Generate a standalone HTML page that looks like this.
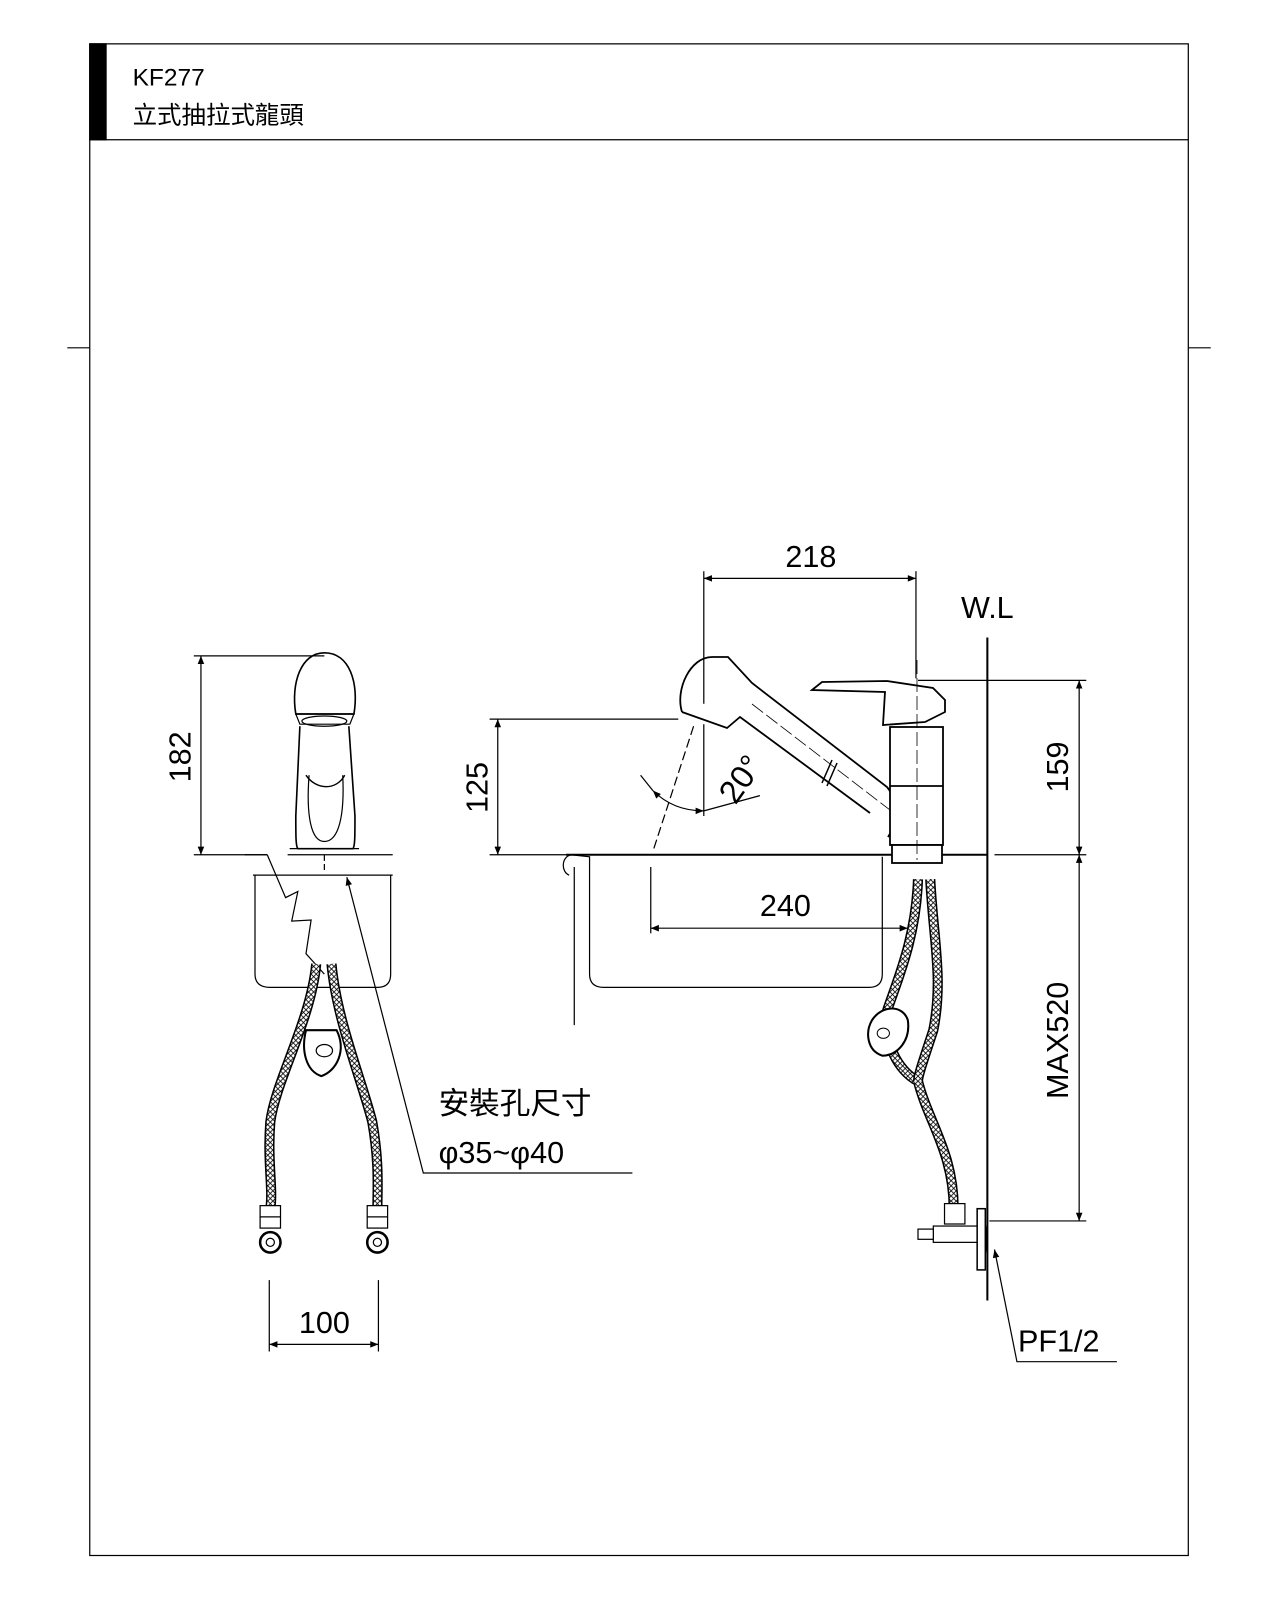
<!DOCTYPE html>
<html><head><meta charset="utf-8"><style>
html,body{margin:0;padding:0;background:#fff;}
svg{display:block}
text{font-family:"Liberation Sans","Noto Sans CJK TC",sans-serif;fill:#000}
</style></head><body>
<svg width="1280" height="1600" viewBox="0 0 1280 1600" xmlns="http://www.w3.org/2000/svg">
<defs>
<marker id="a" viewBox="0 0 10 10" refX="10" refY="5" markerWidth="12" markerHeight="8" orient="auto-start-reverse" markerUnits="userSpaceOnUse"><path d="M0,1 L10,5 L0,9 z" fill="#000"/></marker>
<pattern id="br" width="5" height="5" patternUnits="userSpaceOnUse"><rect width="5" height="5" fill="#fff"/><path d="M0,5 L5,0 M0,0 L5,5" stroke="#000" stroke-width="0.8"/></pattern>
</defs>
<g transform="scale(1.02)" fill="none" stroke="#000" stroke-width="1.2">
<rect x="88" y="43" width="1077" height="1482" stroke-width="1.2"/>
<line x1="88" y1="137" x2="1165" y2="137"/>
<rect x="88" y="43" width="16" height="94" fill="#000"/>
<line x1="66" y1="341" x2="88" y2="341"/><line x1="1165" y1="341" x2="1187" y2="341"/>
<text x="130" y="84" font-size="24" stroke="none">KF277</text>
<text x="130" y="121" font-size="24" stroke="none">立式抽拉式龍頭</text>

<line x1="190" y1="643" x2="318" y2="643"/>
<line x1="190" y1="838" x2="262" y2="838"/>
<line x1="197" y1="643" x2="197" y2="838" marker-start="url(#a)" marker-end="url(#a)"/>
<text transform="translate(187,742) rotate(-90)" font-size="30" stroke="none" text-anchor="middle">182</text>
<path d="M290,700 C285,670 295,640 318,640 C343,640 352,670 347,700 Z" stroke-width="1.6"/>
<path d="M290,700 L347,700 L343,710 L294,710 Z"/>
<ellipse cx="318" cy="707" rx="22" ry="5"/>
<path d="M294,712 L290,800 C290,820 290,830 292,832 L346,832 C348,830 348,820 348,800 L342,712" stroke-width="1.6"/>
<path d="M300,760 C310,775 330,775 338,760" stroke-width="1.4"/>
<path d="M303,760 C300,800 305,825 318,825 C332,825 338,800 336,760"/>
<line x1="284" y1="832" x2="352" y2="832"/>
<line x1="282" y1="838" x2="385" y2="838"/>
<line x1="240" y1="838" x2="262" y2="838"/>
<path d="M248,858 L385,858 M250,858 L250,955 Q250,968 265,968 L370,968 Q383,968 383,955 L383,858"/>
<path d="M262,838 L280,880 L292,874 L286,903 L305,902 L300,935 L318,955"/>
<line x1="318" y1="838" x2="318" y2="855" stroke-dasharray="6,3"/>
<path d="M340,860 L415,1150 L620,1150" marker-start="url(#a)"/>
<text x="430" y="1092" font-size="30" stroke="none">安裝孔尺寸</text>
<text x="430" y="1140" font-size="30" stroke="none">φ35~φ40</text>
<path d="M310,945 C305,1000 270,1060 265,1100 C262,1140 268,1165 265,1185" stroke="#000" stroke-width="10"/>
<path d="M310,945 C305,1000 270,1060 265,1100 C262,1140 268,1165 265,1185" stroke="url(#br)" stroke-width="7"/>
<path d="M325,945 C330,1000 355,1060 365,1100 C372,1140 370,1165 370,1185" stroke="#000" stroke-width="10"/>
<path d="M325,945 C330,1000 355,1060 365,1100 C372,1140 370,1165 370,1185" stroke="url(#br)" stroke-width="7"/>
<path d="M300,1010 L330,1010 C340,1030 330,1050 315,1055 C300,1050 295,1030 300,1010 Z" fill="#fff" stroke-width="2"/>
<ellipse cx="318" cy="1030" rx="8" ry="6"/>
<rect x="255" y="1182" width="20" height="22" fill="#fff"/><rect x="360" y="1182" width="20" height="22" fill="#fff"/>
<line x1="255" y1="1193" x2="275" y2="1193"/><line x1="360" y1="1193" x2="380" y2="1193"/>
<circle cx="265" cy="1218" r="10" stroke-width="2.5"/><circle cx="370" cy="1218" r="10" stroke-width="2.5"/>
<circle cx="265" cy="1218" r="4"/><circle cx="370" cy="1218" r="4"/>
<line x1="264" y1="1255" x2="264" y2="1325"/><line x1="371" y1="1255" x2="371" y2="1325"/>
<line x1="264" y1="1318" x2="371" y2="1318" marker-start="url(#a)" marker-end="url(#a)"/>
<text x="318" y="1307" font-size="30" stroke="none" text-anchor="middle">100</text>

<line x1="690" y1="560" x2="690" y2="690"/>
<line x1="898" y1="560" x2="898" y2="665"/>
<line x1="690" y1="567" x2="898" y2="567" marker-start="url(#a)" marker-end="url(#a)"/>
<text x="795" y="556" font-size="30" stroke="none" text-anchor="middle">218</text>
<text x="968" y="606" font-size="30" stroke="none" text-anchor="middle">W.L</text>
<line x1="968" y1="625" x2="968" y2="1275" stroke-width="2"/>
<line x1="900" y1="667" x2="1065" y2="667"/>
<line x1="975" y1="838" x2="1065" y2="838"/>
<line x1="970" y1="1197" x2="1065" y2="1197"/>
<line x1="1058" y1="667" x2="1058" y2="838" marker-start="url(#a)" marker-end="url(#a)"/>
<line x1="1058" y1="838" x2="1058" y2="1197" marker-start="url(#a)" marker-end="url(#a)"/>
<text transform="translate(1047,752) rotate(-90)" font-size="30" stroke="none" text-anchor="middle">159</text>
<text transform="translate(1047,1020) rotate(-90)" font-size="30" stroke="none" text-anchor="middle">MAX520</text>
<line x1="480" y1="705" x2="665" y2="705"/>
<line x1="480" y1="838" x2="560" y2="838"/>
<line x1="488" y1="705" x2="488" y2="838" marker-start="url(#a)" marker-end="url(#a)"/>
<text transform="translate(478,772) rotate(-90)" font-size="30" stroke="none" text-anchor="middle">125</text>
<line x1="555" y1="838" x2="968" y2="838" stroke-width="2"/>
<path d="M560,838 C550,840 550,855 558,858 M560,838 L578,840 L578,955 Q578,968 592,968 L852,968 Q865,968 865,955 L865,840"/>
<line x1="563" y1="850" x2="563" y2="1005"/>
<line x1="638" y1="850" x2="638" y2="915"/>
<line x1="638" y1="910" x2="890" y2="910" marker-start="url(#a)" marker-end="url(#a)"/>
<text x="770" y="898" font-size="30" stroke="none" text-anchor="middle">240</text>
<line x1="680" y1="712" x2="640" y2="835" stroke-dasharray="9,4"/>
<line x1="690" y1="710" x2="690" y2="800"/>
<path d="M628,760 L640,775" />
<path d="M640,775 Q660,795 690,795" marker-start="url(#a)" marker-end="url(#a)"/>
<line x1="690" y1="795" x2="745" y2="780"/>
<text transform="translate(735,770) rotate(-55)" font-size="32" stroke="none" text-anchor="middle">20°</text>
<path d="M975,1225 L997,1335 L1095,1335" marker-start="url(#a)"/>
<text x="998" y="1325" font-size="30" stroke="none">PF1/2</text>
</g>

<g fill="none" stroke="#000" stroke-width="1.8">
<path d="M682,712 C675,690 690,657 712,657 L728,657 L752,683 L887,787 C898,800 896,825 888,837"/>
<path d="M682,712 L727,728 L740,717 L870,813"/>
<line x1="832" y1="760" x2="822" y2="783" stroke-width="1.5"/>
<line x1="837" y1="763" x2="827" y2="786" stroke-width="1.5"/>
<line x1="752" y1="704" x2="916" y2="830" stroke-width="0.8" stroke-dasharray="14,4"/>
<path d="M812,690 L822,682 L887,681 L933,688 L945,700 L945,712 L925,722 L883,725 L885,692 Z" fill="#fff"/>
<rect x="890" y="727" width="53" height="118" fill="#fff"/>
<line x1="890" y1="786" x2="943" y2="786"/>
<rect x="892" y="845" width="50" height="18" fill="#fff"/>
<line x1="917" y1="660" x2="917" y2="860" stroke-width="0.8" stroke-dasharray="14,4"/>
</g>
<g transform="scale(1.02)" fill="none" stroke="#000">
<path d="M900,862 C898,920 880,960 870,990 C865,1020 880,1050 900,1060 C910,1100 935,1130 935,1185" stroke-width="10"/>
<path d="M900,862 C898,920 880,960 870,990 C865,1020 880,1050 900,1060 C910,1100 935,1130 935,1185" stroke="url(#br)" stroke-width="7"/>
<path d="M912,862 C915,920 925,960 915,1010 C905,1040 900,1055 900,1060" stroke-width="10"/>
<path d="M912,862 C915,920 925,960 915,1010 C905,1040 900,1055 900,1060" stroke="url(#br)" stroke-width="7"/>
<path d="M855,1000 C865,985 885,985 890,1000 C893,1020 880,1035 865,1035 C850,1030 848,1012 855,1000 Z" fill="#fff" stroke-width="2"/>
<ellipse cx="866" cy="1013" rx="6" ry="5"/>
<rect x="926" y="1180" width="20" height="20" fill="#fff" stroke-width="1.2"/>
<rect x="915" y="1202" width="50" height="16" fill="#fff" stroke-width="1.2"/>
<rect x="900" y="1205" width="15" height="10" fill="#fff" stroke-width="1.2"/>
<path d="M962,1190 Q972,1210 962,1245" stroke-width="2"/>
<rect x="958" y="1185" width="8" height="60" fill="#fff" stroke-width="1.5"/>
</g>
</svg>
</body></html>
